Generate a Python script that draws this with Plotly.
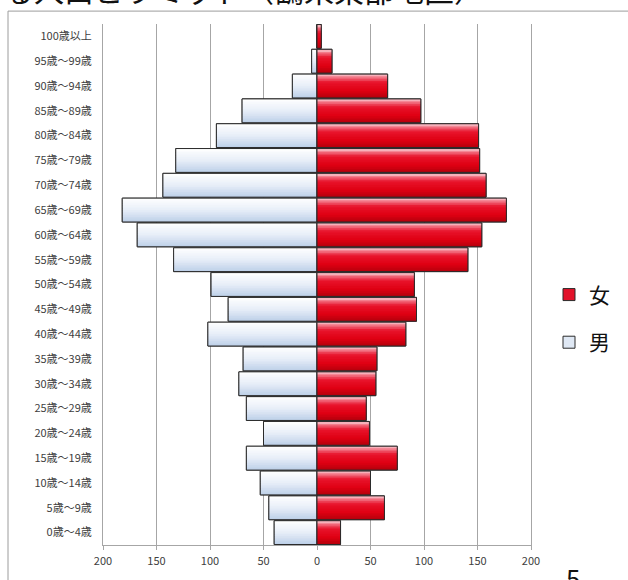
import plotly.graph_objects as go

# Age groups, youngest first (bottom of the pyramid)
age_groups = [
    "0歳～4歳", "5歳～9歳", "10歳～14歳", "15歳～19歳", "20歳～24歳",
    "25歳～29歳", "30歳～34歳", "35歳～39歳", "40歳～44歳", "45歳～49歳",
    "50歳～54歳", "55歳～59歳", "60歳～64歳", "65歳～69歳", "70歳～74歳",
    "75歳～79歳", "80歳～84歳", "85歳～89歳", "90歳～94歳", "95歳～99歳",
    "100歳以上",
]
male = [40, 45, 53, 66, 50, 66, 73, 69, 102, 83, 99, 134, 168, 182, 144,
        132, 94, 70, 23, 5, 0]
female = [22, 63, 50, 75, 49, 46, 55, 56, 83, 93, 91, 141, 154, 177, 158,
          152, 151, 97, 66, 14, 4]

x_tick_vals = [-200, -150, -100, -50, 0, 50, 100, 150, 200]
x_tick_text = ["200", "150", "100", "50", "0", "50", "100", "150", "200"]

title_text = "る人口ピラミッド（鶴来東部地区）"
page_no = "5"

FONT = "Noto Sans CJK JP, Noto Sans, sans-serif"
W, H = 628, 580
ML, MR, MT, MB = 103, 97, 24, 31
PW, PH = W - ML - MR, H - MT - MB


def px_x(p):
    return (p - ML) / PW


def px_y(p):
    return (H - MB - p) / PH


def hex_rgb(h):
    h = h.lstrip("#")
    return tuple(int(h[i:i + 2], 16) for i in (0, 2, 4))


def ramp(stops, t):
    for (t0, c0), (t1, c1) in zip(stops, stops[1:]):
        if t0 <= t <= t1:
            f = 0 if t1 == t0 else (t - t0) / (t1 - t0)
            a, b = hex_rgb(c0), hex_rgb(c1)
            return "rgb(%d,%d,%d)" % tuple(round(a[i] + (b[i] - a[i]) * f) for i in range(3))
    return stops[-1][1]


# vertical shading, top -> bottom
male_stops = [(0, "#ffffff"), (0.5, "#e7eef8"), (1, "#bccfe8")]
female_stops = [(0, "#f9c4cc"), (0.14, "#f27484"), (0.34, "#e8142c"),
                (0.7, "#df0012"), (1, "#b4000c")]

BAR_W = 0.96
N_BANDS = 14
OUTLINE = "#2b2b2b"

fig = go.Figure()


def add_series(name, values, sign, stops, legend_color, legend_id, rank):
    xs = [sign * v for v in values]
    # base fill (also provides the legend swatch)
    fig.add_trace(go.Bar(
        y=age_groups, x=xs, orientation="h", name=name, width=BAR_W,
        marker=dict(color=legend_color, line=dict(color=OUTLINE, width=1)),
        legend=legend_id, legendrank=rank, hoverinfo="skip",
    ))
    step = BAR_W / N_BANDS
    for i in range(N_BANDS):
        # band 0 at the bottom of the bar, last band at the top
        t = 1 - (i + 0.5) / N_BANDS
        w = step if i == N_BANDS - 1 else step * 1.6
        fig.add_trace(go.Bar(
            y=age_groups, x=xs, orientation="h", width=w,
            offset=-BAR_W / 2 + i * step,
            marker=dict(color=ramp(stops, t), line=dict(width=0)),
            showlegend=False, hoverinfo="skip",
        ))
    fig.add_trace(go.Bar(
        y=age_groups, x=xs, orientation="h", width=BAR_W,
        marker=dict(color="rgba(0,0,0,0)", line=dict(color=OUTLINE, width=1)),
        showlegend=False, hoverinfo="skip",
    ))


add_series("男", male, -1, male_stops, "#dfe8f4", "legend2", 2)
add_series("女", female, 1, female_stops, "#e2122a", "legend", 1)

legend_common = dict(
    xanchor="left", yanchor="middle", x=px_x(549),
    font=dict(family=FONT, size=21, color="#111111"),
    bgcolor="rgba(0,0,0,0)",
)

fig.update_layout(
    width=W, height=H,
    margin=dict(l=ML, r=MR, t=MT, b=MB),
    paper_bgcolor="white", plot_bgcolor="white",
    barmode="overlay",
    font=dict(family=FONT, color="#404040", size=11),
    legend=dict(**legend_common, y=px_y(297)),
    legend2=dict(**legend_common, y=px_y(345)),
    xaxis=dict(
        range=[-200, 200], tickvals=x_tick_vals, ticktext=x_tick_text,
        showgrid=True, gridcolor="#a6a6a6", gridwidth=1,
        zeroline=False, showline=True, linecolor="#a6a6a6", linewidth=1,
        ticks="outside", ticklen=4, tickcolor="#a6a6a6",
        tickfont=dict(family=FONT, size=11, color="#404040"),
        ticklabelstandoff=2, fixedrange=True,
    ),
    yaxis=dict(
        type="category", categoryorder="array", categoryarray=age_groups,
        range=[-0.5, len(age_groups) - 0.5],
        showgrid=False, showline=True, mirror=True,
        linecolor="#a6a6a6", linewidth=1, ticks="",
        tickfont=dict(family=FONT, size=11, color="#404040"),
        ticklabelstandoff=8, fixedrange=True,
    ),
    shapes=[dict(
        type="rect", xref="paper", yref="paper", layer="below",
        x0=px_x(8), x1=px_x(W + 20), y0=px_y(H + 20), y1=px_y(11),
        line=dict(color="#9c9c9c", width=1), fillcolor="rgba(0,0,0,0)",
    )],
    annotations=[
        dict(text=title_text, xref="paper", yref="paper",
             x=px_x(2), y=px_y(-11), xanchor="left", yanchor="middle",
             showarrow=False, font=dict(family=FONT, size=30, color="#111111")),
        dict(text=page_no, xref="paper", yref="paper",
             x=px_x(573), y=px_y(561), xanchor="center", yanchor="top",
             showarrow=False, font=dict(family=FONT, size=26, color="#111111")),
    ],
)

fig.write_html("out.html")
